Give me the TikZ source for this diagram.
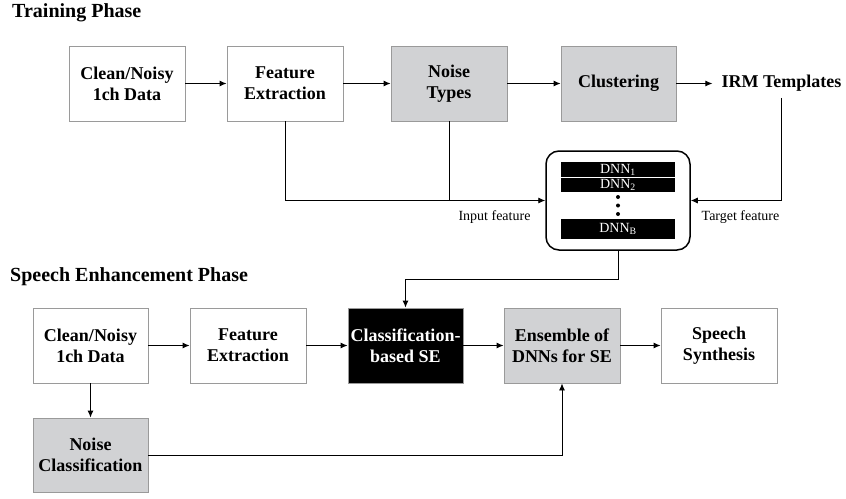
\documentclass[tikz,border=0pt]{standalone}
\usepackage{fontspec}
\setmainfont{Liberation Serif}
\usetikzlibrary{arrows.meta}
\definecolor{boxgray}{HTML}{D1D2D4}
\definecolor{edgegray}{HTML}{9A9A9A}
\tikzset{
  blk/.style={draw=edgegray, line width=0.9pt, minimum height=75pt, inner sep=2pt,
     align=center, font=\bfseries\fontsize{18}{21}\selectfont},
  wbox/.style={blk, fill=white},
  gbox/.style={blk, fill=boxgray},
  kbox/.style={blk, fill=black, text=white, draw=edgegray},
  conn/.style={line width=0.9pt, draw=black},
  arr/.style={conn, -{Latex[length=7pt,width=6pt]}},
  bar/.style={fill=black, text=white, minimum width=114pt, inner sep=0pt,
     font=\fontsize{14}{14}\selectfont},
  lbl/.style={font=\fontsize{14}{16}\selectfont, inner sep=0pt},
  title/.style={font=\bfseries\fontsize{20}{22}\selectfont, inner sep=0pt, anchor=base west},
  dot/.style={fill=black, circle, inner sep=0pt, minimum size=4pt}
}
\begin{document}
\begin{tikzpicture}[x=1pt,y=-1pt]
\useasboundingbox (0,0) rectangle (846,498);
% titles
\node[title] (t1) at (12,17.5) {Training Phase};
\node[title] (t2) at (10,281) {Speech Enhancement Phase};
% training row
\node[wbox, minimum width=116pt] (tc) at (127,83.5) {Clean/Noisy\\1ch Data};
\node[wbox, minimum width=116pt] (tf) at (285,83.5) {Feature\\Extraction};
\node[gbox, minimum width=116pt] (tn) at (449,83.5) {Noise\\Types};
\node[gbox, minimum width=115pt] (tcl) at (618.5,83.5) {Clustering};
\node[font=\bfseries\fontsize{18}{21}\selectfont, inner xsep=9pt, inner ysep=6pt] (irm) at (781.5,83.5) {IRM Templates};
% DNN box
\node[draw=black, line width=1.5pt, rounded corners=13pt, minimum width=144pt, minimum height=99pt] (dnn) at (618,200.5) {};
\node[bar, minimum height=15pt] (d1) at (618,169.5) {DNN\textsubscript{1}};
\node[bar, minimum height=14pt] (d2) at (618,185) {DNN\textsubscript{2}};
\node[dot] (p1) at (618,197) {};
\node[dot] (p2) at (618,205.5) {};
\node[dot] (p3) at (618,214) {};
\node[bar, minimum height=20pt] (db) at (618,229) {DNN\textsubscript{B}};
\node[lbl] (inl) at (494.5,217) {Input feature};
\node[lbl] (tgl) at (740.5,217) {Target feature};
% enhancement row
\node[wbox, minimum width=115pt] (bc) at (90.5,345.5) {Clean/Noisy\\1ch Data};
\node[wbox, minimum width=116pt] (bf) at (248,345.5) {Feature\\Extraction};
\node[kbox, minimum width=115pt] (bcs) at (405.5,345.5) {Classification-\\based SE};
\node[gbox, minimum width=116pt] (be) at (562,345.5) {Ensemble of\\DNNs for SE};
\node[wbox, minimum width=116pt] (bs) at (719,345.5) {Speech\\Synthesis};
\node[gbox, minimum width=115pt, minimum height=74pt] (bnc) at (90.5,455) {Noise\\Classification};
% training connectors
\draw[arr] (tc) -- (tf);
\draw[arr] (tf) -- (tn);
\draw[arr] (tn) -- (tcl);
\draw[arr] (tcl) -- (irm);
\draw[arr] (tf.south) |- (dnn.west);
\draw[conn] (tn.south) -- (tn.south |- dnn.west);
\draw[arr] (irm.south) |- (dnn.east);
% feed to SE
\coordinate (fb) at (618,279);
\draw[arr] (dnn.south) -- (fb) -| (bcs.north);
% enhancement connectors
\draw[arr] (bc) -- (bf);
\draw[arr] (bf) -- (bcs);
\draw[arr] (bcs) -- (be);
\draw[arr] (be) -- (bs);
\draw[arr] (bc) -- (bnc);
\draw[arr] (bnc.east) -| (be.south);
\end{tikzpicture}
\end{document}
